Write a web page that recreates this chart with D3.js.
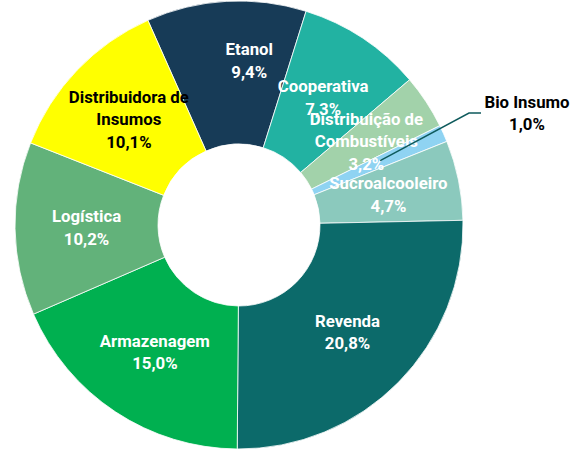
<!DOCTYPE html>
<html>
<head>
<meta charset="utf-8">
<script src="https://cdn.jsdelivr.net/npm/d3@7"></script>
<style>
  body { margin: 0; background: #fff; }
  svg text { font-family: Roboto, "Liberation Sans", sans-serif; font-weight: bold; font-size: 16.8px; }
</style>
</head>
<body>
<div id="chart"></div>
<script>
// slices, clockwise from Etanol
var categories = ["Etanol", "Cooperativa", "Distribuição de Combustíveis", "Bio Insumo", "Sucroalcooleiro", "Revenda", "Armazenagem", "Logística", "Distribuidora de Insumos"];
var values = [9.4, 7.3, 3.2, 1.0, 4.7, 20.8, 15.0, 10.2, 10.1];
var labelLines = [["Etanol"], ["Cooperativa"], ["Distribuição de", "Combustíveis"], ["Bio Insumo"], ["Sucroalcooleiro"], ["Revenda"], ["Armazenagem"], ["Logística"], ["Distribuidora de", "Insumos"]];
var colors = ["#173b57", "#22b2a2", "#a2d2aa", "#8fd3f2", "#8bc9bd", "#0c6a6a", "#00b050", "#62b27a", "#ffff00"];
var textColors = ["#fff", "#fff", "#fff", "#000", "#fff", "#fff", "#fff", "#fff", "#000"];

var width = 578, height = 451;
var cx = 239, cy = 225, outerR = 224, innerR = 81;

var svg = d3.select("#chart").append("svg")
    .attr("width", width)
    .attr("height", height);

var g = svg.append("g").attr("transform", "translate(" + cx + "," + cy + ")");

var pie = d3.pie()
    .sort(null)
    .value(function(d) { return d; })
    .startAngle(-24 * Math.PI / 180)
    .endAngle(336 * Math.PI / 180);

var arc = d3.arc().innerRadius(innerR).outerRadius(outerR);

var arcs = pie(values);

g.selectAll("path")
    .data(arcs)
    .enter()
    .append("path")
    .attr("d", arc)
    .attr("fill", function(d, i) { return colors[i]; })
    .attr("stroke", "#fff")
    .attr("stroke-width", 0.8);

function fmt(v) { return v.toFixed(1).replace(".", ",") + "%"; }

var lineH = 22.5;

arcs.forEach(function(d, i) {
    var c = arc.centroid(d);
    var x = c[0], y = c[1];
    // Etanol label was nudged in the original
    if (i === 0) { x += 19; y -= 12; }
    var lines = labelLines[i].concat([fmt(values[i])]);

    if (i === 3) {
        // Bio Insumo: label outside with leader line
        var lx = 288, ly = -112;
        g.append("polyline")
            .attr("points", [[x + 2, y - 2], [lx - 58, ly], [lx - 46, ly]].map(function(p) { return p.join(","); }).join(" "))
            .attr("fill", "none")
            .attr("stroke", "#0e5a5c")
            .attr("stroke-width", 1.5);
        x = lx; y = ly;
    }

    var t = g.append("text")
        .attr("text-anchor", "middle")
        .attr("fill", textColors[i]);
    lines.forEach(function(s, k) {
        t.append("tspan")
            .attr("x", x)
            .attr("y", y + (k - (lines.length - 1) / 2) * lineH)
            .attr("dy", "0.35em")
            .text(s);
    });
});
</script>
</body>
</html>
